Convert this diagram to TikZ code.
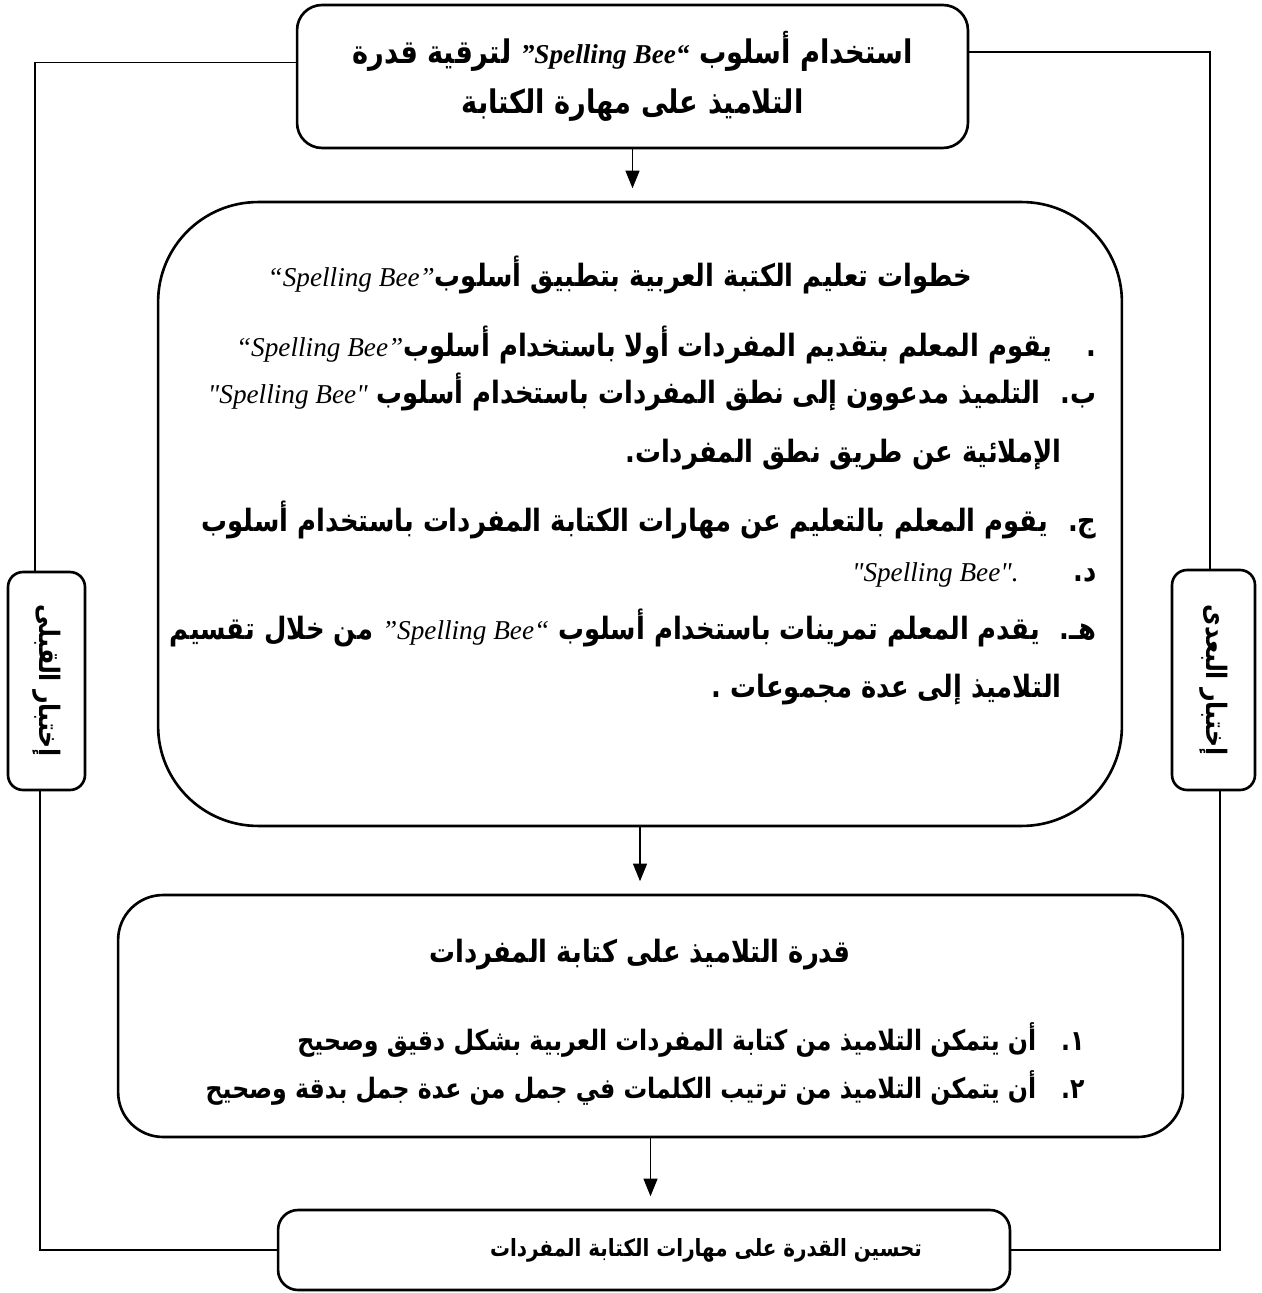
\documentclass[tikz,border=0pt]{standalone}
\usepackage{fontspec}
\setmainfont{Liberation Serif}
\newfontfamily\latinfont{Liberation Serif}
\newfontfamily\arabicfont[Script=Arabic,FakeStretch=0.84]{DejaVu Sans}
\TeXXeTstate=1
\usetikzlibrary{arrows.meta,positioning}
\newcommand\spb[2][\mdseries]{\beginL{\latinfont\itshape#1\fontsize{15.5}{28.5}\selectfont #2}\endL}
\tikzset{
  box/.style={draw,line width=1.5pt,rounded corners=#1,inner sep=0pt},
  box/.default=0.4cm,
  txt/.style={font=\arabicfont\bfseries\fontsize{#1}{28.5}\selectfont,inner sep=0pt},
  txt/.default=17.5,
  link/.style={line width=0.6pt},
  arr/.style={line width=0.6pt,-{Triangle[length=10pt,width=8pt]},shorten >=0.25cm}
}

\begin{document}
\begin{tikzpicture}[x=0.02cm,y=-0.02cm]
    \useasboundingbox (0,0) rectangle (1261,1293);
    \node[box=0.5cm,txt=18.5,align=center,minimum width=13.42cm,minimum height=2.86cm] (title) at (632.5,76.5) {\beginR استخدام أسلوب \spb[\bfseries]{”Spelling Bee“} لترقية قدرة\endR\\ \beginR التلاميذ  على مهارة الكتابة\endR};
    \node[box=2cm,minimum width=19.28cm,minimum height=12.48cm] (steps) at (640,514) {};
    \node[txt] (s0) at (620,275) {\beginR خطوات تعليم الكتبة العربية بتطبيق أسلوب\spb{“Spelling Bee”}\endR};
    \node[txt,anchor=east] (s1) at (1097,345) {\beginR .\hspace{0.7cm}يقوم المعلم بتقديم المفردات أولا باستخدام أسلوب\spb{“Spelling Bee”}\endR};
    \node[txt,anchor=east] (s2) at (1097,392) {\beginR ب.\hspace{0.4cm}التلميذ مدعوون إلى نطق المفردات باستخدام أسلوب \spb{"Spelling Bee"}\endR};
    \node[txt,anchor=east] (s3) at (1062,455) {\beginR الإملائية عن طريق نطق المفردات.\endR};
    \node[txt,anchor=east] (s4) at (1097,520) {\beginR ج.\hspace{0.4cm}يقوم المعلم بالتعليم عن مهارات الكتابة المفردات باستخدام أسلوب\endR};
    \node[txt,anchor=east] (s5) at (1097,575) {\beginR د.\hspace{1.1cm}\spb{"Spelling Bee".}\endR};
    \node[txt,anchor=east] (s6) at (1097,628) {\beginR هـ.\hspace{0.4cm}يقدم المعلم تمرينات باستخدام أسلوب \spb{”Spelling Bee“} من خلال تقسيم\endR};
    \node[txt,anchor=east] (s7) at (1062,690) {\beginR التلاميذ إلى عدة مجموعات .\endR};
    \node[box=0.9cm,minimum width=21.3cm,minimum height=4.84cm] (ability) at (650.5,1016) {};
    \node[txt] (u0) at (640,955) {\beginR قدرة التلاميذ على كتابة المفردات\endR};
    \node[txt=16,anchor=east] (u1) at (1085,1040) {\beginR ١.\hspace{0.5cm}أن يتمكن التلاميذ من كتابة المفردات العربية بشكل دقيق وصحيح\endR};
    \node[txt=16,anchor=east] (u2) at (1085,1088) {\beginR ٢.\hspace{0.5cm}أن يتمكن التلاميذ من ترتيب الكلمات في جمل من عدة جمل بدقة وصحيح\endR};
    \node[box,minimum width=14.64cm,minimum height=1.6cm] (gain) at (644,1250) {};
    \node[txt=13.5] (gaintxt) at (706,1250) {\beginR تحسين القدرة على مهارات الكتابة المفردات\endR};
    \node[box=0.3cm,minimum width=1.54cm,minimum height=4.36cm] (pre) at (46.5,681) {};
    \node[txt=16,rotate=-90] (pretxt) at (pre) {\beginR إختبار القبلى\endR};
    \node[box=0.3cm,minimum width=1.66cm,minimum height=4.4cm] (post) at (1213.5,680) {};
    \node[txt=16,rotate=-90] (posttxt) at (post) {\beginR إختبار البعدى\endR};
    \foreach \a/\b in {title/steps,steps/ability,ability/gain} \draw[arr] (\a.south) -- (\a.south |- \b.north);
    \draw[link] ([yshift=0.28cm]title.west) -| ([xshift=-0.23cm]pre.north);
    \draw[link] ([xshift=-0.13cm]pre.south) |- (gain.west);
    \draw[link] ([yshift=0.49cm]title.east) -| ([xshift=-0.07cm]post.north);
    \draw[link] ([xshift=0.13cm]post.south) |- (gain.east);
\end{tikzpicture}
\end{document}
